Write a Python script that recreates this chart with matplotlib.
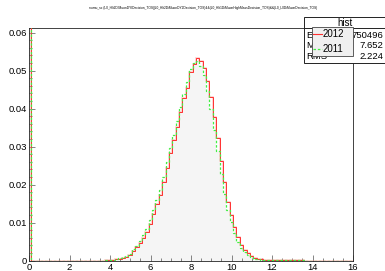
import numpy as np
import matplotlib
matplotlib.use("Agg")
import matplotlib.pyplot as plt
from matplotlib.patches import Rectangle
from matplotlib.ticker import MultipleLocator

# ---- data ----------------------------------------------------------------------
# histogram binning: width 1/6, first edge just right of x = 0
bin_w = 1.0 / 6
first_edge = 0.08
n_bins = 96
start_bin = 22          # first bin index of the listed values

# 2012 (red, solid), bins 22..80
red_2012 = [0.00005, 0.0001, 0.0001, 0.0003, 0.0005, 0.0007, 0.0010, 0.0014,
            0.0025, 0.0035, 0.0045, 0.0060, 0.0076, 0.0095, 0.0122, 0.0148,
            0.0172, 0.0207, 0.0243, 0.0283, 0.0317, 0.0351, 0.0390, 0.0428,
            0.0455, 0.0495, 0.0518, 0.0533, 0.0526, 0.0508, 0.0472, 0.0431,
            0.0378, 0.0322, 0.0263, 0.0207, 0.0155, 0.0120, 0.0089, 0.0063,
            0.0041, 0.0028, 0.0019, 0.0012, 0.0007, 0.0005, 0.0003, 0.0002,
            0.0002, 0.0001, 0.0001, 0.00005, 0.00005, 0.00005, 0.00005,
            0.00005, 0.00005, 0.00005, 0.00005]

# 2011 (green, dashed), bins 22..80
green_2011 = [0.0001, 0.0001, 0.0002, 0.0004, 0.0006, 0.0008, 0.0012, 0.0018,
              0.0029, 0.0039, 0.0051, 0.0066, 0.0084, 0.0106, 0.0132, 0.0158,
              0.0186, 0.0221, 0.0259, 0.0297, 0.0331, 0.0367, 0.0405, 0.0439,
              0.0471, 0.0504, 0.0520, 0.0526, 0.0512, 0.0488, 0.0447, 0.0399,
              0.0344, 0.0287, 0.0229, 0.0176, 0.0134, 0.0101, 0.0073, 0.0050,
              0.0033, 0.0023, 0.0015, 0.0009, 0.0005, 0.0003, 0.0002, 0.0001,
              0.0001, 0.0001, 0.00005, 0.00005, 0.00005, 0.00005, 0.00005,
              0.00005, 0.00005, 0.00005, 0.00005]

# the bin just below x=0 runs off the top of the plot for both years
spike_value = 0.07

title = ("numu_sc (L0_Hlt2DiMuonDYIDecision_TOS||L0_Hlt2DiMuonDY2Decision_TOS)&&"
         "(L0_Hlt1DiMuonHighMassDecision_TOS)&&(L0_L0DiMuonDecision_TOS)")
legend_labels = ["2012", "2011"]
stats_rows = [("Entries", "750496"), ("Mean", "7.652"), ("RMS", "2.224")]

# ---- build full arrays ---------------------------------------------------------
def full(vals):
    arr = np.zeros(n_bins)
    arr[start_bin:start_bin + len(vals)] = vals
    return np.concatenate([[spike_value], arr])

edges = first_edge + bin_w * np.arange(-1, n_bins + 1)
red = full(red_2012)
green = full(green_2011)
fill_vals = np.minimum(red, green)
fill_vals[0] = 0.0

# ---- figure --------------------------------------------------------------------
W, H = 385, 271
plt.rcParams['font.family'] = ['Liberation Sans', 'DejaVu Sans']
fig = plt.figure(figsize=(W / 100, H / 100), dpi=100)

def px(x, y):
    # pixel (top-left origin) -> figure fraction
    return x / W, 1 - y / H

ax_l, ax_r, ax_t, ax_b = 29, 353, 28, 260.5
ax = fig.add_axes([ax_l / W, 1 - ax_b / H, (ax_r - ax_l) / W, (ax_b - ax_t) / H])

ax.stairs(fill_vals, edges, fill=True, color='#f5f5f5', zorder=1)
ax.stairs(red, edges, color='#ff9090', lw=1.2, alpha=0.45, zorder=2)
ax.stairs(red, edges, color='#ff3030', lw=0.7, zorder=3)
ax.stairs(green, edges, color='#44ee44', lw=0.9, ls=(0, (2, 1.5)), zorder=4)

ax.set_xlim(0, 16)
ax.set_ylim(0, 0.0612)

ax.xaxis.set_major_locator(MultipleLocator(2))
ax.xaxis.set_minor_locator(MultipleLocator(0.5))
ax.yaxis.set_major_locator(MultipleLocator(0.01))
ax.yaxis.set_minor_locator(MultipleLocator(0.002))
ax.tick_params(which='both', direction='in', top=False, right=False,
               labelsize=6.8, pad=1.5, width=0.5, color='#555555')
ax.tick_params(which='major', length=4)
ax.tick_params(which='minor', length=2)
ax.set_yticks([0, 0.01, 0.02, 0.03, 0.04, 0.05, 0.06])
ax.set_yticklabels(["0", "0.01", "0.02", "0.03", "0.04", "0.05", "0.06"])
for s in ax.spines.values():
    s.set_linewidth(0.6)
    s.set_color('#222222')

fig.text(*px(203, 8), title, fontsize=2.3, ha='center', va='center')

# stats box
sx0, sy0, sx1, sy1 = 304, 17, 385, 63.3
fig.add_artist(Rectangle(px(sx0, sy1), (sx1 - sx0) / W, (sy1 - sy0) / H,
                         transform=fig.transFigure, facecolor='white',
                         edgecolor='#222222', lw=0.7, zorder=5))
fig.add_artist(plt.Line2D([sx0 / W, sx1 / W], [1 - 27.7 / H] * 2,
                          transform=fig.transFigure, color='#222222', lw=0.7, zorder=6))
fig.text(*px(344.5, 22.5), "hist", fontsize=7, ha='center', va='center', zorder=7)
for i, (lab, val) in enumerate(stats_rows):
    y = 35.5 + i * 10.5
    fig.text(*px(306, y), lab, fontsize=6.8, ha='left', va='center', zorder=7)
    fig.text(*px(383, y), val, fontsize=6.8, ha='right', va='center', zorder=7)

# legend box (drawn over the stats box, as in the original)
lx0, ly0, lx1, ly1 = 312, 26.7, 353.3, 56
fig.add_artist(Rectangle(px(lx0, ly1), (lx1 - lx0) / W, (ly1 - ly0) / H,
                         transform=fig.transFigure, facecolor='#f0f0f0',
                         edgecolor='#444444', lw=0.6, zorder=8))
leg_styles = [dict(color='#ff3030', lw=0.8, ls='-'),
              dict(color='#44ee44', lw=0.9, ls=(0, (2, 1.5)))]
for i, (lab, st) in enumerate(zip(legend_labels, leg_styles)):
    y = 34 + i * 15
    fig.add_artist(plt.Line2D([313 / W, 321.5 / W], [1 - y / H] * 2,
                              transform=fig.transFigure, zorder=9, **st))
    fig.text(*px(322.5, y), lab, fontsize=7, ha='left', va='center', zorder=9)

fig.savefig("out.png", dpi=100)
